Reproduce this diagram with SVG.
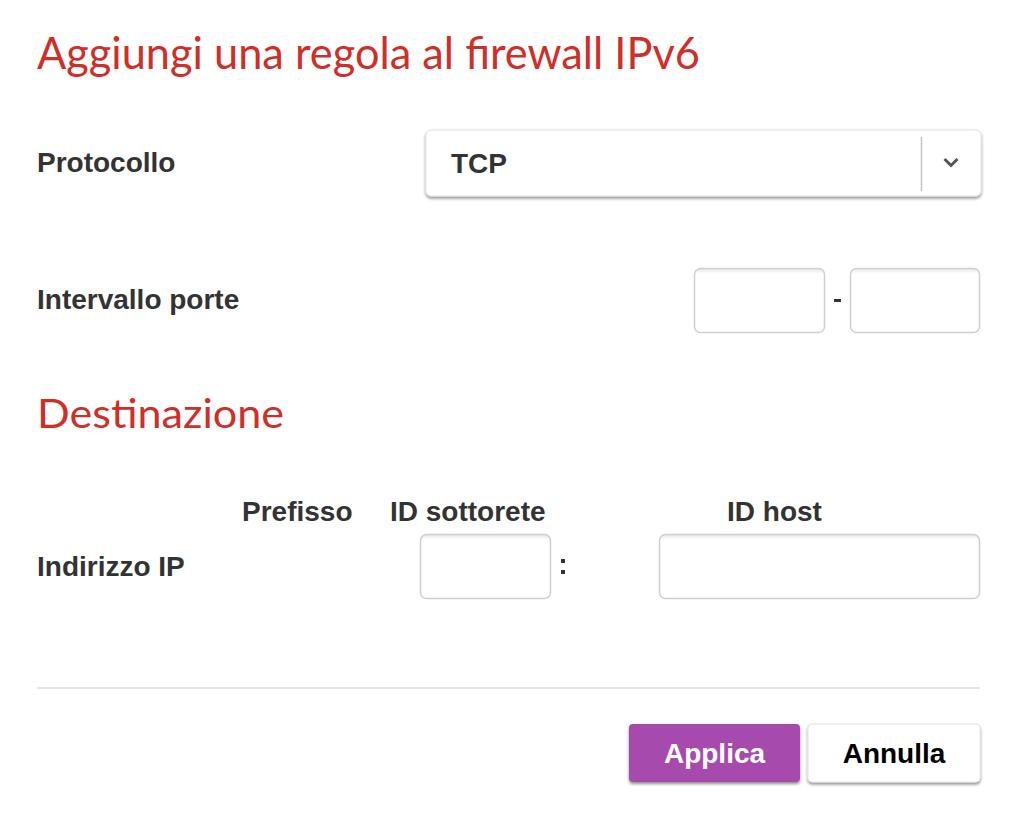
<svg xmlns="http://www.w3.org/2000/svg" width="1024" height="820" viewBox="0 0 1024 820">
<defs>
<filter id="drop" x="-5%" y="-20%" width="110%" height="150%">
<feGaussianBlur in="SourceAlpha" stdDeviation="1.6"/>
<feOffset dy="2" result="b"/>
<feComponentTransfer><feFuncA type="linear" slope="0.45"/></feComponentTransfer>
<feMerge><feMergeNode/><feMergeNode in="SourceGraphic"/></feMerge>
</filter>
<linearGradient id="inset" x1="0" y1="0" x2="0" y2="1">
<stop offset="0" stop-color="#e6e6e6"/>
<stop offset="0.08" stop-color="#ffffff"/>
<stop offset="1" stop-color="#ffffff"/>
</linearGradient>
</defs>
<style>
.h{font-family:"Lato","Open Sans",sans-serif;fill:#cf2f28;}
.lbl{font-family:"Liberation Sans",Arial,sans-serif;font-weight:bold;font-size:28px;fill:#333333;}
.inp{fill:url(#inset);stroke:#cfcfcf;stroke-width:1.5;}
</style>
<rect width="1024" height="820" fill="#ffffff"/>
<text class="h" x="37" y="69" font-size="45" textLength="663" lengthAdjust="spacingAndGlyphs">Aggiungi una regola al firewall IPv6</text>
<g id="protocollo">
<text class="lbl" x="37" y="172">Protocollo</text>
<rect x="426" y="130" width="555" height="66" rx="5" fill="#ffffff" stroke="#e2e2e2" filter="url(#drop)"/>
<text class="lbl" x="451" y="173">TCP</text>
<line x1="921.5" y1="137" x2="921.5" y2="191" stroke="#c4c4c4" stroke-width="1.5"/>
<path d="M944.5 159 L951 165.5 L957.5 159" fill="none" stroke="#555555" stroke-width="3"/>
</g>
<g id="intervallo-porte">
<text class="lbl" x="37" y="309">Intervallo porte</text>
<rect class="inp" x="694.5" y="268.5" width="130" height="64" rx="6"/>
<rect x="834" y="299" width="7" height="3" fill="#333333"/>
<rect class="inp" x="850.5" y="268.5" width="129" height="64" rx="6"/>
</g>
<text class="h" x="37" y="428" font-size="41" textLength="247" lengthAdjust="spacingAndGlyphs">Destinazione</text>
<g id="indirizzo-ip">
<text class="lbl" x="242" y="521">Prefisso</text>
<text class="lbl" x="390" y="521">ID sottorete</text>
<text class="lbl" x="727" y="521">ID host</text>
<text class="lbl" x="37" y="576">Indirizzo IP</text>
<rect class="inp" x="420.5" y="534.5" width="130" height="64" rx="6"/>
<rect x="561" y="559" width="4" height="4" fill="#333333"/>
<rect x="561" y="570" width="4" height="4" fill="#333333"/>
<rect class="inp" x="659.5" y="534.5" width="320" height="64" rx="6"/>
</g>
<line x1="37" y1="688" x2="980" y2="688" stroke="#dddddd" stroke-width="1.5"/>
<g id="applica">
<rect x="629" y="724" width="171" height="58" rx="4" fill="#a64bad" filter="url(#drop)"/>
<text x="714.5" y="763" text-anchor="middle" font-family="Liberation Sans, Arial, sans-serif" font-weight="bold" font-size="28" fill="#ffffff">Applica</text>
</g>
<g id="annulla">
<rect x="808" y="724" width="172" height="58" rx="4" fill="#ffffff" stroke="#e4e4e4" filter="url(#drop)"/>
<text x="894" y="763" text-anchor="middle" font-family="Liberation Sans, Arial, sans-serif" font-weight="bold" font-size="28" fill="#000000">Annulla</text>
</g>
</svg>
